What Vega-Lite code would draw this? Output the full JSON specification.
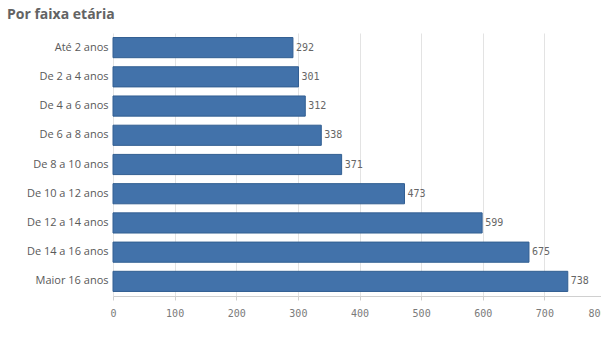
{
  "$schema": "https://vega.github.io/schema/vega-lite/v6.json",
  "autosize": {"type": "none"},
  "width": 488,
  "height": 263,
  "padding": {"left": 113, "top": 33, "right": 0, "bottom": 41},
  "background": "white",
  "title": {
    "text": "Por faixa etária",
    "anchor": "start",
    "frame": "group",
    "dx": -106,
    "offset": 11,
    "font": "Open Sans",
    "fontSize": 14,
    "fontWeight": "bold",
    "color": "#636363"
  },
  "data": {
    "values": [
      {"faixa": "Até 2 anos", "valor": 292},
      {"faixa": "De 2 a 4 anos", "valor": 301},
      {"faixa": "De 4 a 6 anos", "valor": 312},
      {"faixa": "De 6 a 8 anos", "valor": 338},
      {"faixa": "De 8 a 10 anos", "valor": 371},
      {"faixa": "De 10 a 12 anos", "valor": 473},
      {"faixa": "De 12 a 14 anos", "valor": 599},
      {"faixa": "De 14 a 16 anos", "valor": 675},
      {"faixa": "Maior 16 anos", "valor": 738}
    ]
  },
  "encoding": {
    "y": {
      "field": "faixa",
      "type": "nominal",
      "sort": null,
      "scale": {"paddingInner": 0.31, "paddingOuter": 0.155},
      "axis": {
        "title": null,
        "ticks": false,
        "domain": false,
        "labelPadding": 5,
        "labelFont": "Open Sans",
        "labelFontSize": 11,
        "labelColor": "#595959"
      }
    },
    "x": {
      "field": "valor",
      "type": "quantitative",
      "scale": {"domain": [0, 800], "range": [0, 493], "nice": false},
      "axis": {
        "title": null,
        "values": [0, 100, 200, 300, 400, 500, 600, 700, 800],
        "grid": true,
        "gridColor": "#e3e3e3",
        "domainColor": "#d0d0d0",
        "tickColor": "#d0d0d0",
        "tickSize": 4,
        "labelPadding": 8,
        "labelFont": "DejaVu Sans Mono",
        "labelFontSize": 10,
        "labelColor": "#7a7a7a",
        "labelAlign": {"expr": "datum.value === 800 ? 'right' : 'center'"}
      }
    }
  },
  "layer": [
    {
      "mark": {"type": "bar", "color": "#4272aa", "stroke": "#325f92", "strokeWidth": 1}
    },
    {
      "mark": {"type": "text", "align": "left", "dx": 3, "font": "DejaVu Sans Mono", "fontSize": 10, "color": "#666666"},
      "encoding": {"text": {"field": "valor", "type": "quantitative"}}
    }
  ],
  "config": {"view": {"stroke": null}}
}
